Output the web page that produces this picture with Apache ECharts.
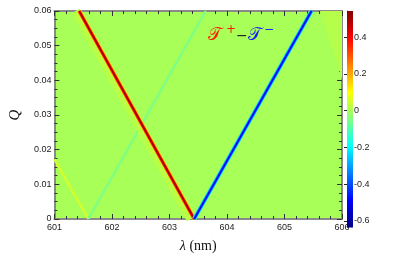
<!DOCTYPE html>
<html><head><meta charset="utf-8">
<script src="https://cdn.jsdelivr.net/npm/echarts@6/dist/echarts.min.js"></script>
<style>html,body{margin:0;padding:0;background:#fff}#c{width:395px;height:258px}</style>
</head><body><div id="c"></div>
<script>
// ---- data ----
const lambdaRange = [601, 606];
const qRange = [0, 0.06];
const cbTicks = [-0.6, -0.4, -0.2, 0, 0.2, 0.4];
const cbMinorTicks = [-0.6,-0.55,-0.5,-0.45,-0.4,-0.35,-0.3,-0.25,-0.2,-0.15,-0.1,-0.05,0,0.05,0.1,0.15,0.2,0.25,0.3,0.35,0.4,0.45,0.5];
const cbRange = [-0.636, 0.543];
const backgroundValue = 0;
// resonance lines, endpoints [lambda (nm), Q]
const redLine = [[601.43, 0.06], [603.43, 0]];
const redHalo = [[601.37, 0.06], [603.37, 0]];
const blueLine = [[603.43, 0], [605.47, 0.06]];
const faintCyanLine = [[601.59, 0], [603.63, 0.06]];
const faintYellowLine = [[601.0, 0.0173], [601.59, 0]];
const cornerRegion = [[605.62, 0.06], [605.78, 0.052], [605.92, 0.045], [606, 0.040]];
// values of T+ - T- along those features (outer -> core)
const redValues = [0.02, 0.14, 0.35, 0.5];
const blueValues = [-0.12, -0.3, -0.42, -0.5];
const faintCyanValue = -0.05;
const faintYellowValue = 0.05;
const cornerValue = 0.015;

// ---- jet colormap ----
function clamp(v){return Math.max(0, Math.min(1, v));}
function jetT(t){
  const r = clamp(1.5 - Math.abs(4*t - 3)), g = clamp(1.5 - Math.abs(4*t - 2)), b = clamp(1.5 - Math.abs(4*t - 1));
  return 'rgb(' + Math.round(r*255) + ',' + Math.round(g*255) + ',' + Math.round(b*255) + ')';
}
function jet(v){ return jetT((v - cbRange[0]) / (cbRange[1] - cbRange[0])); }

const chart = echarts.init(document.getElementById('c'), null, {renderer: 'canvas'});

function lineSeries(data, value, width){
  return {type: 'line', xAxisIndex: 0, yAxisIndex: 0, data: data, symbol: 'none', silent: true,
    clip: true, lineStyle: {color: jet(value), width: width, cap: 'butt'}, animation: false};
}

const labelFont = {fontFamily: 'Liberation Sans', fontSize: 9, color: '#222'};
const frameLine = {show: true, onZero: false, lineStyle: {color: '#8a8a8a', width: 2}};

const series = [
  {type: 'line', xAxisIndex: 0, yAxisIndex: 0, data: cornerRegion, symbol: 'none', silent: true,
   lineStyle: {width: 0, color: jet(cornerValue)}, areaStyle: {origin: 'end', color: jet(cornerValue), opacity: 1}, animation: false},
  lineSeries(faintYellowLine, faintYellowValue, 2.5),
  lineSeries(faintCyanLine, faintCyanValue, 2.5),
  lineSeries(redHalo, redValues[0], 9),
  lineSeries(redLine, redValues[1], 4.5),
  lineSeries(redLine, redValues[2], 3.2),
  lineSeries(redLine, redValues[3], 1.6),
  lineSeries(blueLine, blueValues[0], 4.5),
  lineSeries(blueLine, blueValues[1], 3.2),
  lineSeries(blueLine, blueValues[2], 2.2),
  lineSeries(blueLine, blueValues[3], 1.1),
  {type: 'custom', xAxisIndex: 2, yAxisIndex: 2, data: [[0, cbRange[0], cbRange[1]]], silent: true, animation: false,
   renderItem: function(params, api){
     const p0 = api.coord([0, api.value(1)]), p1 = api.coord([0, api.value(2)]);
     const cs = params.coordSys;
     const stops = [0, 0.125, 0.375, 0.625, 0.875, 1].map(function(t){return {offset: t, color: jetT(t)};});
     return {type: 'rect', shape: {x: cs.x, y: p1[1], width: cs.width, height: p0[1] - p1[1]},
       style: {fill: new echarts.graphic.LinearGradient(0, 1, 0, 0, stops)}};
   }}
];

chart.setOption({
  animation: false,
  grid: [
    {left: 52, top: 11, width: 290, height: 216, show: true, backgroundColor: jet(backgroundValue), borderWidth: 0},
    {left: 347, top: 11, width: 6, height: 216.5, show: false}
  ],
  xAxis: [
    {type: 'value', gridIndex: 0, min: lambdaRange[0], max: lambdaRange[1], interval: 1, position: 'bottom',
     axisLine: frameLine, axisTick: {show: true, inside: true, length: 5, lineStyle: {color: '#333'}},
     minorTick: {show: true, splitNumber: 5, length: 3, lineStyle: {color: '#333'}},
     splitLine: {show: false}, axisLabel: Object.assign({margin: 4}, labelFont),
     name: '{i|λ} (nm)', nameLocation: 'middle', nameGap: 20,
     nameTextStyle: {fontFamily: 'Liberation Serif', fontSize: 14, color: '#111',
       rich: {i: {fontFamily: 'Liberation Serif', fontStyle: 'italic', fontSize: 14, color: '#111'}}}},
    {type: 'value', gridIndex: 0, min: lambdaRange[0], max: lambdaRange[1], interval: 1, position: 'top',
     axisLine: frameLine, axisTick: {show: true, inside: true, length: 5, lineStyle: {color: '#333'}},
     minorTick: {show: true, splitNumber: 5, length: 3, lineStyle: {color: '#333'}},
     splitLine: {show: false}, axisLabel: {show: false}},
    {type: 'value', gridIndex: 1, min: 0, max: 1, show: false}
  ],
  yAxis: [
    {type: 'value', gridIndex: 0, min: qRange[0], max: qRange[1], interval: 0.01, position: 'left',
     axisLine: frameLine, axisTick: {show: true, inside: true, length: 5, lineStyle: {color: '#333'}},
     minorTick: {show: true, splitNumber: 4, length: 3, lineStyle: {color: '#333'}},
     splitLine: {show: false}, axisLabel: Object.assign({margin: 3}, labelFont),
     name: 'Q', nameLocation: 'middle', nameGap: 30,
     nameTextStyle: {fontFamily: 'Liberation Serif', fontStyle: 'italic', fontSize: 15, color: '#111'}},
    {type: 'value', gridIndex: 0, min: qRange[0], max: qRange[1], interval: 0.01, position: 'right',
     axisLine: frameLine, axisTick: {show: true, inside: true, length: 5, lineStyle: {color: '#333'}},
     minorTick: {show: true, splitNumber: 4, length: 3, lineStyle: {color: '#333'}},
     splitLine: {show: false}, axisLabel: {show: false}},
    {type: 'value', gridIndex: 1, min: cbRange[0], max: cbRange[1], position: 'right',
     axisLine: {show: true, lineStyle: {color: '#555', width: 1}},
     axisTick: {show: true, inside: true, length: 3, customValues: cbTicks, lineStyle: {color: '#222'}},
     splitLine: {show: false},
     axisLabel: Object.assign({margin: 1, customValues: cbTicks}, labelFont)},
    {type: 'value', gridIndex: 1, min: cbRange[0], max: cbRange[1], position: 'right',
     axisLine: {show: false}, axisTick: {show: true, inside: true, length: 1.5, customValues: cbMinorTicks, lineStyle: {color: '#222'}},
     splitLine: {show: false}, axisLabel: {show: false}}
  ],
  series: series,
  graphic: [
    {type: 'text', left: 208, top: 26, style: {text: '𝒯', fill: '#ff1a00', font: '18px "DejaVu Serif"'}},
    {type: 'text', left: 226, top: 24, style: {text: '+', fill: '#ff1a00', font: '12px "DejaVu Sans"'}},
    {type: 'text', left: 236, top: 29, style: {text: '−', fill: '#222', font: '14px "DejaVu Sans"'}},
    {type: 'text', left: 248, top: 26, style: {text: '𝒯', fill: '#1a1aff', font: '18px "DejaVu Serif"'}},
    {type: 'text', left: 264, top: 24, style: {text: '−', fill: '#1a1aff', font: '12px "DejaVu Sans"'}}
  ]
});
</script></body></html>
